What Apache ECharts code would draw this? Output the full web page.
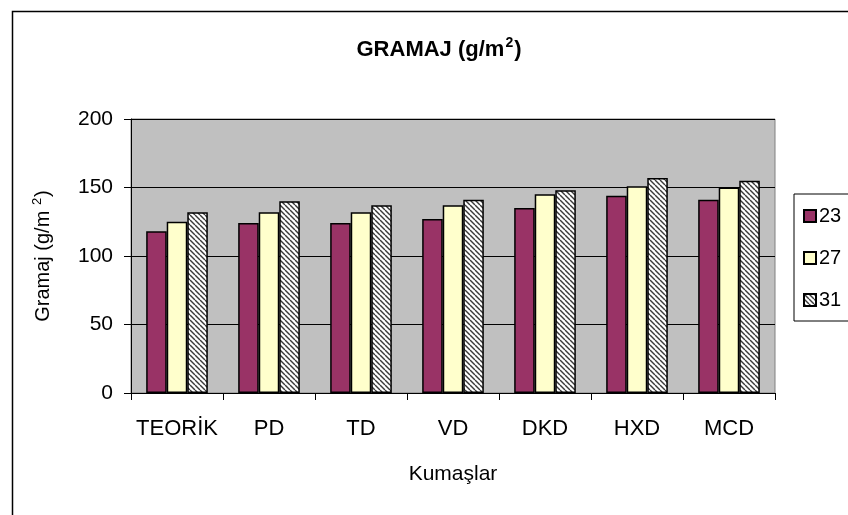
<!DOCTYPE html>
<html>
<head>
<meta charset="utf-8">
<script src="https://cdn.jsdelivr.net/npm/echarts@6/dist/echarts.min.js"></script>
<style>
  html, body { margin: 0; padding: 0; background: #fff; }
  #chart { width: 848px; height: 515px; }
</style>
</head>
<body>
<div id="chart"></div>
<script>
// Fabric types (Kumaşlar)
const categories = ['TEORİK', 'PD', 'TD', 'VD', 'DKD', 'HXD', 'MCD'];
// Series names
const seriesNames = ['23', '27', '31'];
// Gramaj values (g/m²) per series
const values23 = [118, 124, 124, 127, 135, 144, 141];
const values27 = [125, 132, 132, 137, 145, 151, 150];
const values31 = [132, 140, 137, 141, 148, 157, 155];
// Y axis range
const yMin = 0, yMax = 200, yStep = 50;

// Diagonal hatch fill for the third series
function hatchPattern() {
  const c = document.createElement('canvas');
  const s = 5;
  c.width = s; c.height = s;
  const g = c.getContext('2d');
  g.fillStyle = '#ffffff';
  g.fillRect(0, 0, s, s);
  g.strokeStyle = '#3a3a3a';
  g.lineWidth = 1.4;
  for (let k = -s; k <= s; k += s) {
    g.beginPath();
    g.moveTo(k, 0);
    g.lineTo(k + s, s);
    g.stroke();
  }
  return { image: c, repeat: 'repeat' };
}

const fills = ['#993366', '#FFFFCC', hatchPattern()];
const allValues = [values23, values27, values31];

const chart = echarts.init(document.getElementById('chart'), null, { renderer: 'canvas' });
const font = 'Arial, "Liberation Sans", sans-serif';

chart.setOption({
  animation: false,
  backgroundColor: '#ffffff',
  textStyle: { fontFamily: font, color: '#000' },
  title: {
    text: '{a|GRAMAJ (g/m}{s|2}{a|)}',
    left: 434, top: 31, textAlign: 'center',
    textStyle: {
      rich: {
        a: { fontFamily: font, fontWeight: 'bold', fontSize: 22, color: '#000', lineHeight: 28 },
        s: { fontFamily: font, fontWeight: 'bold', fontSize: 14, color: '#000', lineHeight: 28, padding: [0, 1, 14, 1] }
      }
    }
  },
  graphic: [{
    type: 'rect', left: 10, top: 9, z: -1, silent: true,
    shape: { width: 900, height: 600 },
    style: { fill: 'none', stroke: '#000', lineWidth: 1.5 }
  }],
  legend: {
    orient: 'vertical',
    left: 794, top: 194,
    padding: [12, 40, 11, 9],
    itemGap: 22,
    itemWidth: 12, itemHeight: 12,
    icon: 'rect',
    backgroundColor: '#fff',
    borderColor: '#000', borderWidth: 1, borderRadius: 0,
    textStyle: { fontFamily: font, fontSize: 20, color: '#000', padding: [0, 0, 0, -2] },
    data: seriesNames
  },
  grid: {
    left: 131, right: 73, top: 119, bottom: 122,
    show: true, backgroundColor: '#C0C0C0', borderColor: '#808080', borderWidth: 1
  },
  xAxis: {
    type: 'category',
    data: categories,
    name: 'Kumaşlar',
    nameLocation: 'middle',
    nameGap: 71,
    nameTextStyle: { fontFamily: font, fontSize: 21, color: '#000' },
    axisLine: { lineStyle: { color: '#000', width: 1 } },
    axisTick: { show: true, interval: 0, length: 7, alignWithLabel: false, lineStyle: { color: '#000' } },
    axisLabel: { interval: 0, fontFamily: font, fontSize: 22, color: '#000', margin: 25 }
  },
  yAxis: {
    type: 'value',
    min: yMin, max: yMax, interval: yStep,
    name: '{a|Gramaj (g/m }{s|2}{a|)}',
    nameLocation: 'middle',
    nameGap: 76,
    nameRotate: 90,
    nameTextStyle: {
      rich: {
        a: { fontFamily: font, fontSize: 20, color: '#000', lineHeight: 24 },
        s: { fontFamily: font, fontSize: 13, color: '#000', lineHeight: 24, padding: [0, 1, 12, 0] }
      }
    },
    axisLine: { show: true, lineStyle: { color: '#000', width: 1 } },
    axisTick: { show: true, length: 7, lineStyle: { color: '#000' } },
    axisLabel: { fontFamily: font, fontSize: 21, color: '#000', margin: 18 },
    splitLine: { show: true, lineStyle: { color: '#000', width: 1 } }
  },
  series: seriesNames.map((name, i) => ({
    name: name,
    type: 'bar',
    data: allValues[i],
    barGap: '0%',
    barCategoryGap: '33%',
    itemStyle: { color: fills[i], borderColor: '#000', borderWidth: 1.5 }
  }))
});
</script>
</body>
</html>
